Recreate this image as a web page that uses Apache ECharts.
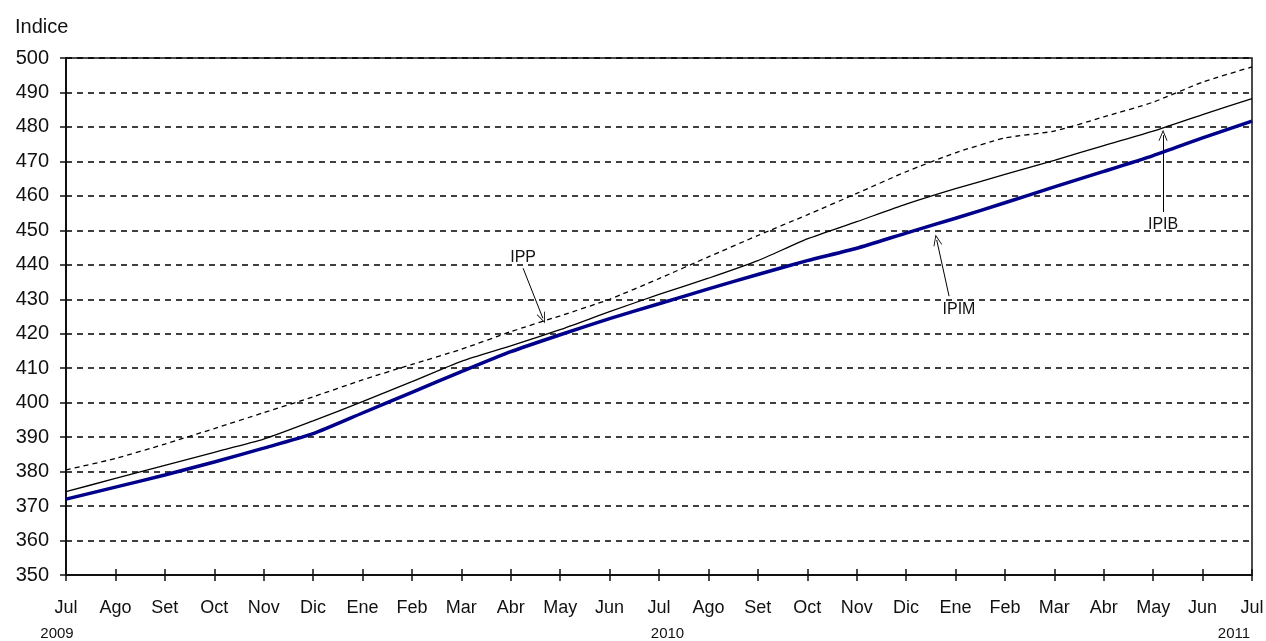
<!DOCTYPE html>
<html>
<head>
<meta charset="utf-8">
<title>Indice</title>
<script src="https://cdn.jsdelivr.net/npm/echarts@6/dist/echarts.min.js"></script>
<style>
  html, body { margin: 0; padding: 0; background: #fff; }
  #chart { width: 1266px; height: 641px; }
</style>
</head>
<body>
<div id="chart"></div>
<script>
// month ticks, Jul 2009 .. Jul 2011
var monthLabels = ['Jul', 'Ago', 'Set', 'Oct', 'Nov', 'Dic', 'Ene', 'Feb', 'Mar', 'Abr', 'May', 'Jun',
  'Jul', 'Ago', 'Set', 'Oct', 'Nov', 'Dic', 'Ene', 'Feb', 'Mar', 'Abr', 'May', 'Jun', 'Jul']
var yearLabels = { 0: '2009', 12: '2010', 24: '2011' }

var ipim = [372, 375.5, 379, 382.8, 386.8, 391, 397, 403, 409, 414.8, 419.7, 424.4, 428.7,
  433, 437.2, 441.2, 444.8, 449.2, 453.5, 458, 462.6, 467.1, 471.7, 476.8, 481.7]
var ipib = [374.2, 378, 381.8, 385.6, 389.4, 394.7, 400.3, 406.1, 412, 416.5, 421.2, 426.4, 431.4,
  436.1, 441.2, 447.5, 452.5, 457.6, 462.1, 466.2, 470.3, 474.6, 478.8, 483.6, 488.2]
var ipp = [380.5, 383.8, 388, 392.5, 397.1, 401.7, 406.6, 411.1, 415.5, 420.6, 425.2, 430, 436,
  442.3, 448.5, 454.5, 460.7, 467, 472.5, 476.8, 478.8, 482.9, 487.2, 493, 497.4]

// annotation: [label x, label y, arrow from x, from y, arrow to x, to y]
var noteIPP = [9.25, 442.2, 9.25, 439.0, 9.65, 424.5]
var noteIPIM = [18.07, 426.9, 17.87, 430.9, 17.62, 447.2]
var noteIPIB = [22.2, 451.8, 22.2, 455.3, 22.2, 477.6]

var FONT = 'Liberation Sans, Arial, sans-serif'
var ARROW = 'path://M5,0 L10,10 L9,10 L5,2 L1,10 L0,10 Z'

function pairs(arr) {
  return arr.map(function (v, i) { return [i, v] })
}

function note(n, text) {
  return {
    markLine: {
      silent: true,
      symbol: ['none', ARROW],
      symbolSize: [9, 11],
      lineStyle: { color: '#000', width: 1, type: 'solid' },
      label: { show: false },
      animation: false,
      data: [[{ coord: [n[2], n[3]] }, { coord: [n[4], n[5]] }]]
    },
    markPoint: {
      silent: true,
      symbol: 'rect',
      symbolSize: 1,
      itemStyle: { color: 'rgba(0,0,0,0)' },
      label: {
        show: true,
        position: 'inside',
        formatter: text,
        color: '#111',
        fontFamily: FONT,
        fontSize: 16
      },
      animation: false,
      data: [{ coord: [n[0], n[1]] }]
    }
  }
}

var chart = echarts.init(document.getElementById('chart'))

var option = {
  animation: false,
  backgroundColor: '#fff',
  title: {
    text: 'Indice',
    left: 10,
    top: 12,
    textStyle: { fontFamily: FONT, fontSize: 20, fontWeight: 'normal', color: '#111' }
  },
  grid: {
    left: 66,
    right: 14,
    top: 58,
    bottom: 66,
    outerBoundsMode: 'none',
    containLabel: false,
    show: true,
    borderColor: '#111',
    borderWidth: 1.5
  },
  xAxis: [
    {
      type: 'value',
      min: 0,
      max: 24,
      interval: 1,
      axisLine: { lineStyle: { color: '#111', width: 2 } },
      axisTick: { length: 6, lineStyle: { color: '#111', width: 1.5 } },
      splitLine: { show: false },
      axisLabel: {
        margin: 20,
        color: '#111',
        fontFamily: FONT,
        formatter: function (v) {
          var s = '{m|' + monthLabels[v] + '}'
          if (yearLabels[v]) s += '\n{y' + v + '|' + yearLabels[v] + '}'
          return s
        },
        rich: {
          m: { fontFamily: FONT, fontSize: 18, lineHeight: 26, color: '#111' },
          y0: { fontFamily: FONT, fontSize: 15, lineHeight: 26, color: '#111', padding: [0, 18, 0, 0] },
          y12: { fontFamily: FONT, fontSize: 15, lineHeight: 26, color: '#111', padding: [0, 0, 0, 17] },
          y24: { fontFamily: FONT, fontSize: 15, lineHeight: 26, color: '#111', padding: [0, 36, 0, 0] }
        }
      }
    },
    {
      // inner half of the crossing ticks
      type: 'value',
      position: 'bottom',
      min: 0,
      max: 24,
      interval: 1,
      axisLine: { show: false },
      axisTick: { inside: true, length: 6, lineStyle: { color: '#111', width: 1.5 } },
      axisLabel: { show: false },
      splitLine: { show: false }
    }
  ],
  yAxis: [
    {
      type: 'value',
      min: 350,
      max: 500,
      interval: 10,
      axisLine: { show: true, lineStyle: { color: '#111', width: 2 } },
      axisTick: { show: true, length: 6, lineStyle: { color: '#111', width: 1.5 } },
      axisLabel: { margin: 17, color: '#111', fontFamily: FONT, fontSize: 20 },
      splitLine: { lineStyle: { color: '#000', width: 1.5, type: [6, 5] } }
    }
  ],
  series: [
    Object.assign({
      name: 'IPP',
      type: 'line',
      data: pairs(ipp),
      smooth: 0.2,
      symbol: 'none',
      lineStyle: { color: '#000', width: 1.3, type: [5, 4] },
      z: 3
    }, note(noteIPP, 'IPP')),
    Object.assign({
      name: 'IPIB',
      type: 'line',
      data: pairs(ipib),
      smooth: 0.2,
      symbol: 'none',
      lineStyle: { color: '#000', width: 1.3 },
      z: 4
    }, note(noteIPIB, 'IPIB')),
    Object.assign({
      name: 'IPIM',
      type: 'line',
      data: pairs(ipim),
      smooth: 0.2,
      symbol: 'none',
      lineStyle: { color: '#00008b', width: 3.5 },
      z: 5
    }, note(noteIPIM, 'IPIM'))
  ]
}

chart.setOption(option)
</script>
</body>
</html>
